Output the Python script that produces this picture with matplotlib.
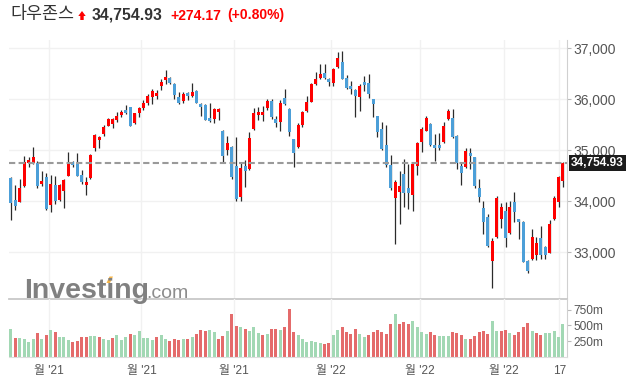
import numpy as np
import matplotlib
matplotlib.use('Agg')
import matplotlib.pyplot as plt
from matplotlib.patches import Polygon

plt.rcParams['font.family'] = ['Liberation Sans', 'Noto Sans CJK KR', 'DejaVu Sans']

# daily OHLC (Sep 2021 .. Mar 18 2022)
opens = [34455,34025,33990,34306,34757,34745,34745,34333,34482,33928,
         34320,34025,34208,34502,34765,34725,34516,34320,34451,35039,
         35202,35320,35476,35516,35594,35692,35790,35843,35541,35725,
         35835,35933,36051,36065,36261,36378,36412,36300,36051,35973,
         36118,36071,36163,35908,35888,35640,35614,35757,35378,35006,
         35059,34692,34085,34692,34633,35418,35692,35692,35835,35967,
         35614,35549,36031,35810,35222,35071,35496,35777,35953,36300,
         36418,36522,36398,36326,36639,36725,36412,36261,36182,36051,
         36345,36326,36000,35673,35412,35104,34712,34071,34188,34535,
         34261,34124,34692,35157,35384,35516,35104,35104,35169,35614,
         35627,35280,34692,34678,34953,34863,34255,33863,33698,32835,
         33294,33647,33810,33373,33992,33653,33600,32835,32863,32947,
         33287,33098,32992,33653,33992,34398]
highs = [34470,34320,34430,34888,34875,35059,34796,34594,34560,34516,
         34500,34340,34440,34973,34796,34941,34614,34470,34927,35317,
         35280,35496,35630,35630,35757,35790,35882,35850,35740,35850,
         35986,36100,36195,36180,36390,36575,36430,36320,36150,36150,
         36150,36314,36180,35935,35900,35922,35830,35830,35390,35286,
         35080,35267,34745,34810,35353,35824,35843,35870,36000,36000,
         35673,35986,36202,35830,35230,35530,35776,36071,36320,36529,
         36686,36690,36420,36608,36933,36947,36477,36366,36196,36300,
         36457,36504,36010,35680,35561,35496,34908,34420,34600,34830,
         34731,34760,35170,35451,35673,35540,35320,35333,35550,35810,
         35810,35300,34745,35040,35040,34863,34431,34012,33751,33274,
         34104,33973,33980,34012,34176,33660,33610,32840,33457,33300,
         33516,33120,33633,34104,34496,34777]
lows = [33630,33830,33985,34290,34678,34740,34255,34300,33830,33796,
        33950,34000,33863,34490,34667,34495,34339,34124,34440,34995,
        35039,35280,35470,35431,35560,35660,35720,35470,35520,35659,
        35800,35890,35908,36000,36180,36300,36300,36012,35900,35920,
        35990,36050,35920,35673,35594,35560,35530,35594,34777,34908,
        34430,34012,34000,34275,34620,35400,35594,35580,35800,35620,
        35451,35384,35880,35280,34667,35050,35451,35760,35940,36280,
        36400,36400,36261,36261,36620,36390,36198,36104,35647,35777,
        36170,36033,35647,35267,35000,34680,34230,33163,33555,33882,
        33847,33816,34516,34973,35370,35085,34796,35000,35150,35600,
        35240,34627,34320,34660,34627,34255,33980,33359,33098,32294,
        33280,33471,33110,33360,33600,33255,32800,32588,32850,32850,
        32860,32860,32980,33640,33894,34286]
closes = [33975,33915,34255,34777,34810,34863,34306,34392,33843,34339,
          34012,34320,34418,34745,34718,34502,34378,34378,34908,35300,
          35267,35463,35614,35608,35679,35757,35737,35482,35725,35823,
          35933,36065,36169,36129,36339,36443,36326,36090,35922,36104,
          36065,36137,35933,35855,35594,35575,35804,35810,34888,35137,
          34482,34039,34647,34594,35248,35737,35757,35757,35967,35647,
          35541,35933,35902,35365,34941,35496,35757,35953,36300,36392,
          36496,36412,36345,36588,36804,36398,36227,36202,36065,36261,
          36280,36104,35908,35365,35026,34712,34267,34384,34306,34169,
          34169,34731,35137,35418,35627,35104,35052,35052,35477,35771,
          35255,34745,34561,34986,34894,34306,34090,33600,33124,33222,
          34071,33882,33286,33882,33796,33600,32816,32633,33294,33189,
          32947,32947,33555,34071,34482,34757]

# volume in millions, and bar colour (g = up, r = down) as seen
volumes = [436,292,292,276,239,276,372,276,340,420,
           388,308,308,260,229,245,308,308,324,324,
           308,276,260,292,340,260,308,356,340,404,
           292,292,260,308,340,276,245,276,260,276,
           276,308,356,420,404,420,388,276,324,404,
           675,484,468,436,404,468,372,340,356,436,
           436,420,468,755,388,340,276,239,245,229,
           213,197,213,340,420,468,388,356,436,356,
           308,340,388,420,388,356,516,675,516,548,
           516,564,468,388,356,388,340,324,324,324,
           388,372,340,276,276,324,388,404,356,564,
           404,404,420,372,340,388,468,532,404,372,
           340,372,372,404,308,516]
vol_dir = ("grggggrgrg" "rgggrrrrgg" "rggrgggrgg" "gggrggrrrg" "rgrrrggrrg"
           "rrgrgggrgr" "rgrrrg" "gggggrrggr" "rrrggrrrrr" "rgrrrggggr"
           "rgggrrrgrr" "rrrggrrgrr" "rrgrrggggg")

last_price = 34754.93
month_idx = [9, 30, 51, 73, 93, 112]
month_labels = ["월 '21", "월 '21", "월 '21", "월 '22", "월 '22", "월 '22"]
day_idx = 124
day_label = "17"

W, H = 632, 386
RED = '#fe0000'
BLUE = '#4c9fd8'

def fx(px):
    return px / W

def fy(py):
    return 1 - py / H

opens = np.array(opens); closes = np.array(closes)
highs = np.array(highs); lows = np.array(lows)
X = np.arange(len(closes))

fig = plt.figure(figsize=(W/100, H/100), dpi=100, facecolor='white')

ax = fig.add_axes([fx(9), fy(299.3), fx(566.7) - fx(9), fy(40) - fy(299.3)])
axv = fig.add_axes([fx(9), fy(356.7), fx(566.7) - fx(9), fy(299.3) - fy(356.7)])

grid_x = list(np.array(month_idx) - 0.45) + [day_idx + 0.15]
for a in (ax, axv):
    for gx in grid_x:
        a.axvline(gx, color='#f1f1f1', lw=1, zorder=0)
    a.set_xlim(-0.45, 125.85)
    for s in ('top', 'left'):
        a.spines[s].set_visible(False)
    a.spines['right'].set_color('#d0d0d0')
    a.set_facecolor('none')

# candles
up = closes >= opens
ax.vlines(X, lows, highs, color='#2b2b2b', lw=0.9, zorder=2)
body = np.maximum(np.abs(closes - opens), 40)
ax.bar(X, body, bottom=np.minimum(opens, closes), width=0.68,
       color=np.where(up, RED, BLUE), lw=0, zorder=3)

ax.set_ylim(32078, 37163)
ax.set_yticks(range(33000, 37001, 1000))
ax.set_yticklabels([f'{v:,}' for v in range(33000, 37001, 1000)])
ax.yaxis.tick_right()
ax.grid(axis='y', color='#f1f1f1', lw=1, zorder=0)
ax.tick_params(axis='y', length=3, color='#bbbbbb', labelsize=10,
               labelcolor='#555555', pad=2)
ax.set_xticks([])
ax.spines['bottom'].set_color('#c8c8c8')
ax.spines['bottom'].set_linewidth(1.3)

ax.axhline(last_price, color='#9a9a9a', lw=1.5, ls=(0, (3, 1.6)), zorder=4)
ax.annotate(f'{last_price:,.2f}', xy=(1.0, last_price),
            xycoords=ax.get_yaxis_transform(), xytext=(3.0, 0),
            textcoords='offset points', ha='left', va='center',
            color='white', fontsize=8.6, fontweight='bold', zorder=10,
            annotation_clip=False,
            bbox=dict(boxstyle='square,pad=0.18', fc='#1c1c1c', ec='none'))

# volume
vcol = ['#a2d8b4' if d == 'g' else '#e46b6b' for d in vol_dir]
axv.bar(X, volumes, width=0.68, color=vcol, lw=0, zorder=2)
axv.set_ylim(0, 915)
axv.yaxis.tick_right()
axv.set_yticks([250, 500, 750])
axv.set_yticklabels(['250m', '500m', '750m'])
axv.tick_params(axis='y', length=3, color='#bbbbbb', labelsize=8.6,
                labelcolor='#555555', pad=2)
axv.set_xticks(list(np.array(month_idx) - 0.45) + [day_idx + 0.15])
axv.set_xticklabels(month_labels + [day_label])
axv.tick_params(axis='x', length=0, labelsize=8.6, labelcolor='#555555', pad=6)
axv.spines['bottom'].set_color('#dddddd')

# watermark
fig.text(fx(24), fy(298), 'Investing', fontsize=20.5, fontweight='bold',
         color='#808080', ha='left', va='baseline', zorder=1)
fig.text(fx(146.5), fy(298), '.com', fontsize=14, color='#8d8d8d',
         ha='left', va='baseline', zorder=1)
mark = [(106.5, 283), (109.5, 276.5), (113, 276.5), (110, 283)]
fig.add_artist(Polygon([(fx(a), fy(b)) for a, b in mark], closed=True,
                       transform=fig.transFigure, fc='#f6b548', ec='none'))

# header
fig.text(fx(10), fy(19.5), '다우존스', fontsize=12.5, color='#333333',
         va='baseline', family=['Noto Sans CJK KR', 'DejaVu Sans'])
arrow = [(78.3, 16), (82, 11), (85.7, 16), (83.7, 16), (83.7, 20),
         (80.3, 20), (80.3, 16)]
fig.add_artist(Polygon([(fx(a), fy(b)) for a, b in arrow], closed=True,
                       transform=fig.transFigure, fc=RED, ec='none'))
fig.text(fx(92), fy(19.5), f'{last_price:,.2f}', fontsize=11.3,
         fontweight='bold', color='#333333', va='baseline')
fig.text(fx(170), fy(19.5), '+274.17', fontsize=10, fontweight='bold',
         color=RED, va='baseline')
fig.text(fx(227), fy(19.5), '(+0.80%)', fontsize=10, fontweight='bold',
         color=RED, va='baseline')

fig.savefig('out.png', dpi=100, facecolor='white')
